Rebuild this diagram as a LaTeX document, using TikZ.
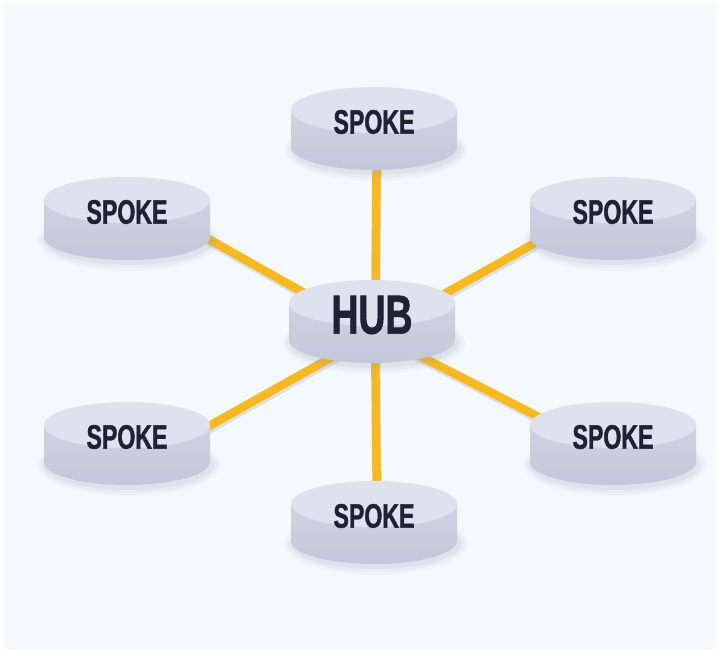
\documentclass[tikz,border=0pt]{standalone}
\usepackage{fontspec}
\usetikzlibrary{positioning}
\newfontfamily\discfont[FakeStretch=0.68, FakeBold=1.2]{Liberation Sans Bold}
\definecolor{bgblue}{HTML}{F4F9FE}
\definecolor{disctop}{HTML}{DEE2EE}
\definecolor{discside}{HTML}{CFD3E3}
\definecolor{discedge}{HTML}{C2C7D9}
\definecolor{discshadow}{HTML}{8E95AE}
\definecolor{linkgold}{HTML}{F8B920}
\definecolor{ink}{HTML}{1E2232}
\pgfdeclarelayer{back}
\pgfdeclarelayer{mid}
\pgfsetlayers{back,mid,main}

\begin{document}
\begin{tikzpicture}[
    x=1pt, y=1pt,
    disc/.pic={
      % soft shadow under the disc
      \foreach \rx/\ry/\o in {91/31/0.05, 88/28/0.07, 85/25/0.10}
        \fill[discshadow, opacity=\o] (2,-28) ellipse [x radius=\rx, y radius=\ry];
      % side and top face
      \shade[top color=discside, bottom color=discedge]
        (-83,12) -- (-83,-25) arc[start angle=180, end angle=360, x radius=83, y radius=23]
        -- (83,12) -- cycle;
      \fill[disctop] (0,12) ellipse [x radius=83, y radius=23];
    },
    spoke/.style={inner sep=0pt, text=ink, font=\discfont\fontsize{34}{34}\selectfont},
    hub/.style={spoke, font=\discfont\fontsize{55}{55}\selectfont},
    link/.style={draw=linkgold, line width=8.5pt,
      preaction={draw=discshadow, opacity=0.25, line width=8.5pt, transform canvas={shift={(1pt,-3pt)}}}}
]

\useasboundingbox (0,0) rectangle (720,652);

% Hub and spokes
\node[hub] (hub) at (372,337) {HUB};
\node[spoke] (sT) at (374,530) {SPOKE};
\node[spoke] (sUL) at (127,440) {SPOKE};
\node[spoke] (sUR) at (613,440) {SPOKE};
\node[spoke] (sLL) at (127,215) {SPOKE};
\node[spoke] (sLR) at (613,215) {SPOKE};
\node[spoke] (sB) at (374,136) {SPOKE};

% Discs under the labels
\begin{pgfonlayer}{mid}
\foreach \n in {hub,sT,sUL,sUR,sLL,sLR,sB}
  \pic at (\n.center) {disc};
\end{pgfonlayer}

\begin{pgfonlayer}{back}
% Background
\fill[white] (0,0) rectangle (720,652);
\fill[bgblue] (4,3) rectangle (716,649);

% Links - behind the discs
\coordinate (hc) at ([shift={(3pt,-18pt)}]hub.center);
\draw[link] (hc) -- ([xshift=3pt]sT.center);
\draw[link] (hc) -- ([xshift=3pt]sB.center);
\draw[link] (hc) -- ([yshift=19pt]sUL.center);
\draw[link] (hc) -- ([yshift=13pt]sUR.center);
\draw[link] (hc) -- ([yshift=-35pt]sLL.center);
\draw[link] (hc) -- ([yshift=-18pt]sLR.center);
\end{pgfonlayer}

\end{tikzpicture}
\end{document}
